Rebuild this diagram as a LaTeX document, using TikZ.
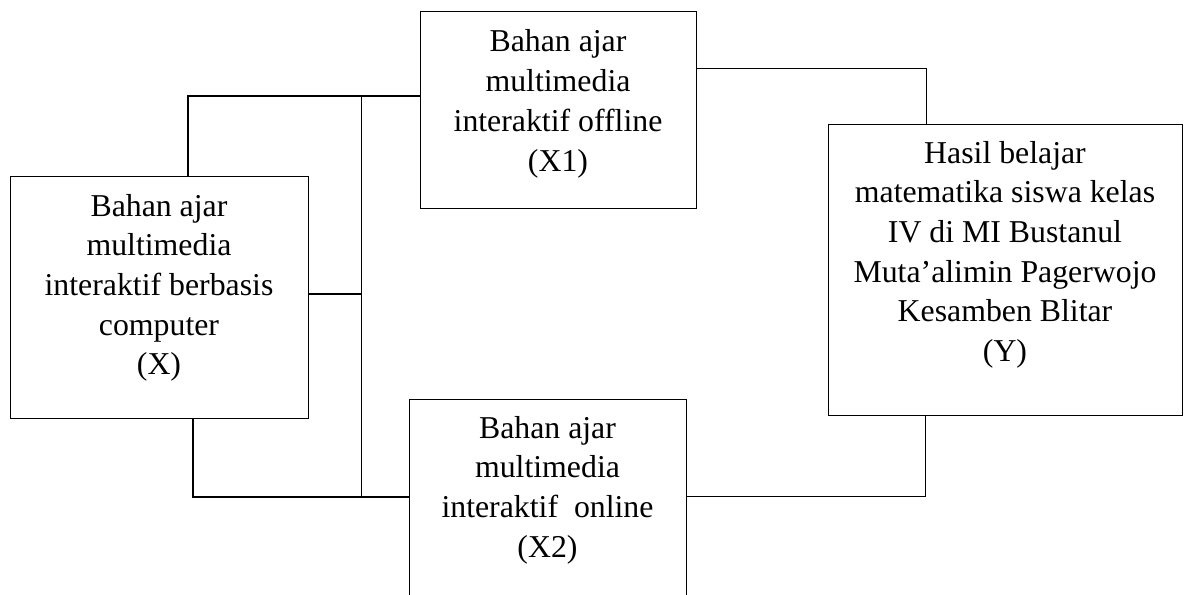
\documentclass[tikz,border=0pt]{standalone}
\usepackage{fontspec}
\setmainfont{Liberation Serif}
\begin{document}
\begin{tikzpicture}[x=1pt,y=-1pt,
  box/.style={draw=black, line width=1pt, rectangle, inner sep=0pt},
  conthick/.style={draw=black, line width=1.5pt},
  conthin/.style={draw=black, line width=0.9pt},
  txt/.style={anchor=base, inner sep=0pt, font=\fontsize{31.8}{39.7}\selectfont}]
\useasboundingbox (0,0) rectangle (1185,594);
\clip (0,0) rectangle (1185,594);
% boxes
\node[box, minimum width=298pt, minimum height=242pt] (X) at (159,297) {};
\node[box, minimum width=276pt, minimum height=196pt] (X1) at (558,110) {};
\node[box, minimum width=354pt, minimum height=291pt] (Y) at (1005,269.5) {};
\node[box, minimum width=277pt, minimum height=220pt] (X2) at (547.5,509) {};
% texts
\node[txt] (tX) at (159,216) {\parbox[t]{290pt}{\centering Bahan ajar\\multimedia\\interaktif berbasis\\computer\\(X)}};
\node[txt] (tX1) at (558,52) {\parbox[t]{268pt}{\centering Bahan ajar\\multimedia\\interaktif offline\\(X1)}};
\node[txt] (tY) at (1005,163) {\parbox[t]{346pt}{\centering Hasil belajar\\matematika siswa kelas\\IV di MI Bustanul\\Muta’alimin Pagerwojo\\Kesamben Blitar\\(Y)}};
\node[txt] (tX2) at (547.5,438) {\parbox[t]{269pt}{\centering Bahan ajar\\multimedia\\interaktif\ \ online\\(X2)}};
% junction coordinates
\coordinate (a1) at (188,96);
\coordinate (j1) at (361,96);
\coordinate (j2) at (361,497);
\coordinate (a2) at (193,497);
\coordinate (a3) at (361,294);
\coordinate (k1) at (926,68);
\coordinate (k2) at (925,496);
% connectors
\draw[conthick] (X.north -| a1) -- (a1) -- (X1.west |- a1);
\draw[conthin] (j1) -- (j2);
\draw[conthick] (X.east |- a3) -- (a3);
\draw[conthick] (X.south -| a2) -- (a2) -- (X2.west |- a2);
\draw[conthin] (X1.east |- k1) -- (k1) -- (Y.north -| k1);
\draw[conthin] (X2.east |- k2) -- (k2) -- (Y.south -| k2);
\end{tikzpicture}
\end{document}
